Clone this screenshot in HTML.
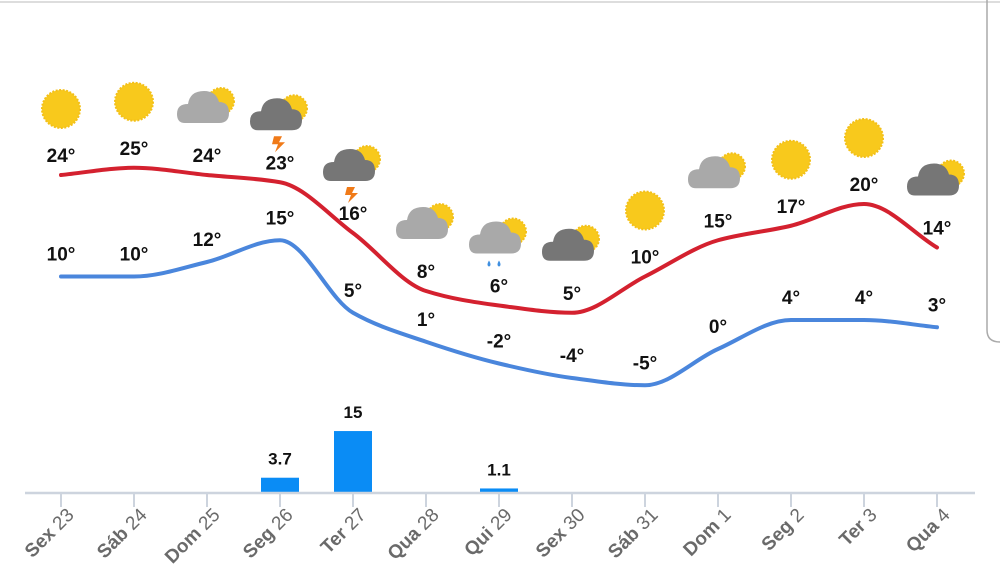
<!DOCTYPE html>
<html><head><meta charset="utf-8"><style>
html,body{margin:0;padding:0;background:#fff;}
svg{display:block;font-family:"Liberation Sans",sans-serif;}
</style></head><body>
<svg id="chart" width="1000" height="568" viewBox="0 0 1000 568" xmlns="http://www.w3.org/2000/svg">
<line x1="0" y1="2" x2="1000" y2="2" stroke="#ddd" stroke-width="2"/>
<path d="M987 0 V330 Q987 342 1000 342" fill="none" stroke="#aaa" stroke-width="1.5"/>
<defs>
<g id="sun"><circle r="19" fill="#f8c91c" stroke="#f3c018" stroke-width="2" stroke-dasharray="2 1.5"/></g>
<path id="cloud" d="M-22 14 Q-30 14 -30 5 Q-30 -5 -19 -5 Q-17 -18 -3 -18 Q9 -18 12 -7 Q22 -7 22 4 Q22 14 12 14 Z"/>
<g id="smallsun"><circle r="13" fill="#f8c91c" stroke="#f3c018" stroke-width="2" stroke-dasharray="2 1.5"/></g>
</defs>
<g id="icons"></g>
<g id="lines"></g>
<g id="labels"></g>
<g id="bars"></g>
<g id="axis"></g>
</svg>
<script>
const days=["Sex 23","Sáb 24","Dom 25","Seg 26","Ter 27","Qua 28","Qui 29","Sex 30","Sáb 31","Dom 1","Seg 2","Ter 3","Qua 4"];
const highs=[24,25,24,23,16,8,6,5,10,15,17,20,14];
const lows=[10,10,12,15,5,1,-2,-4,-5,0,4,4,3];
const rain=[0,0,0,3.7,15,0,1.1,0,0,0,0,0,0];
const rainLabels=["","","","3.7","15","","1.1","","","","","",""];
const icons=["sun","sun","pc-light","pc-dark-storm","pc-dark-storm","pc-light","pc-light-rain","pc-dark","sun","pc-light","sun","sun","pc-dark"];
const NS="http://www.w3.org/2000/svg";
const xs=i=>61+i*73;
const yT=t=>349-7.25*t;
const yR=v=>493-v*4.13;
function el(tag,attrs,parent){const e=document.createElementNS(NS,tag);for(const k in attrs)e.setAttribute(k,attrs[k]);parent.appendChild(e);return e;}
function monotone(pts){
  const n=pts.length,d=[],m=[];
  for(let i=0;i<n-1;i++)d.push((pts[i+1][1]-pts[i][1])/(pts[i+1][0]-pts[i][0]));
  for(let i=0;i<n;i++){
    if(i==0)m.push(d[0]);else if(i==n-1)m.push(d[n-2]);
    else m.push(d[i-1]*d[i]<=0?0:(2/(1/d[i-1]+1/d[i])));
  }
  let s="M"+pts[0][0]+" "+pts[0][1];
  for(let i=0;i<n-1;i++){
    const h=(pts[i+1][0]-pts[i][0])/3;
    s+=" C"+(pts[i][0]+h)+" "+(pts[i][1]+m[i]*h)+" "+(pts[i+1][0]-h)+" "+(pts[i+1][1]-m[i+1]*h)+" "+pts[i+1][0]+" "+pts[i+1][1];
  }
  return s;
}
const L=document.getElementById('lines'),LB=document.getElementById('labels'),IC=document.getElementById('icons'),B=document.getElementById('bars'),A=document.getElementById('axis');
const hp=el('path',{d:monotone(highs.map((t,i)=>[xs(i),yT(t)])),fill:"none",stroke:"#d4212f","stroke-width":4,"stroke-linecap":"round"},L);


const lp=el('path',{d:monotone(lows.map((t,i)=>[xs(i),yT(t)])),fill:"none",stroke:"#4a86dc","stroke-width":4,"stroke-linecap":"round"},L);


days.forEach((d,i)=>{
  const x=xs(i);
  const th=el('text',{x:x,y:yT(highs[i])-13,"text-anchor":"middle","font-size":19,"font-weight":"bold",fill:"#111"},LB);
  th.textContent=highs[i]+"°";
  
  
  const tl=el('text',{x:x,y:yT(lows[i])-16,"text-anchor":"middle","font-size":19,"font-weight":"bold",fill:"#111"},LB);
  tl.textContent=lows[i]+"°";
  
  
  const g=el('g',{transform:`translate(${x},${yT(highs[i])-66})`},IC);
  
  
  const t=icons[i];
  if(t=="sun"){el('use',{href:"#sun"},g);}
  else{
    el('use',{href:"#smallsun",x:14,y:-8},g);
    el('use',{href:"#cloud",fill:t.includes("dark")?"#767676":"#a9a9a9"},g);
    if(t.includes("storm"))el('path',{d:"M-6 20 L2 20 L-1 26 L5 26 L-5 36 L-2 28 L-8 28 Z",fill:"#f07a18"},g);
    if(t.includes("rain")){el('path',{d:"M-10 21 q-3 5 0 6 q3 -1 0 -6Z",fill:"#3f8fe0"},g);el('path',{d:"M0 21 q-3 5 0 6 q3 -1 0 -6Z",fill:"#3f8fe0"},g);}
  }
  if(rain[i]>0){
    const r=el('rect',{x:x-19,y:yR(rain[i]),width:38,height:493-yR(rain[i]),fill:"#0a8cf5"},B);
    
    
    const rt=el('text',{x:x,y:yR(rain[i])-13,"text-anchor":"middle","font-size":17,"font-weight":"bold",fill:"#111"},B);
    rt.textContent=rainLabels[i];
    
    
  }
  const tk=el('line',{x1:x,y1:493,x2:x,y2:507,stroke:"#cdd4de","stroke-width":2},A);
  
  
  const parts=d.split(" ");
  const ax_=x+14, ay_=516;
  const lt=el('text',{x:ax_,y:ay_,"text-anchor":"end","font-size":19,fill:"#6a6a6a",transform:`rotate(-45 ${ax_} ${ay_})`},A);
  
  
  const b=el('tspan',{"font-weight":"bold"},lt);b.textContent=parts[0]+" ";
  const nn=el('tspan',{},lt);nn.textContent=parts[1];
});
const ax=el('line',{x1:25,y1:493,x2:975,y2:493,stroke:"#cdd4de","stroke-width":2.5},A);


</script>
</body></html>
